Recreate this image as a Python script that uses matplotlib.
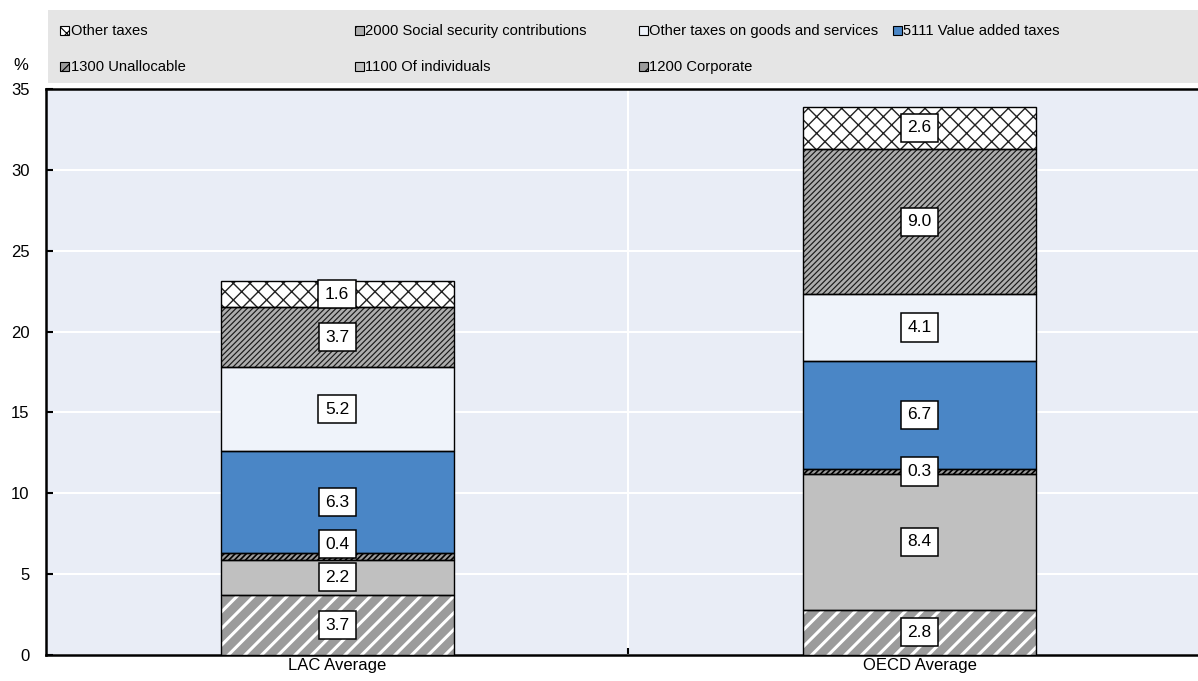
import matplotlib
matplotlib.use('Agg')
import matplotlib.pyplot as plt
from matplotlib.patches import Rectangle
import numpy as np

plt.rcParams['font.family'] = ['Liberation Sans Narrow', 'Liberation Sans', 'DejaVu Sans']

# Tax revenue structure, % of GDP
categories = ['LAC Average', 'OECD Average']
series = ['1200 Corporate', '1100 Of individuals', '1300 Unallocable',
          '5111 Value added taxes', 'Other taxes on goods and services',
          '2000 Social security contributions', 'Other taxes']
corporate = [3.7, 2.8]
individuals = [2.2, 8.4]
unallocable = [0.4, 0.3]
vat = [6.3, 6.7]
other_goods = [5.2, 4.1]
social_security = [3.7, 9.0]
other_taxes = [1.6, 2.6]
values = [corporate, individuals, unallocable, vat, other_goods,
          social_security, other_taxes]

# face colour, hatch pattern, hatch colour, hatch line width
styles = {
    '1200 Corporate': ('#9b9b9b', '//', 'white', 2.2),
    '1100 Of individuals': ('#c0c0c0', None, None, 1.0),
    '1300 Unallocable': ('#9b9b9b', '//////', 'black', 1.2),
    '5111 Value added taxes': ('#4a86c6', None, None, 1.0),
    'Other taxes on goods and services': ('#eff3fa', None, None, 1.0),
    '2000 Social security contributions': ('#adadad', '//////', '#1a1a1a', 0.85),
    'Other taxes': ('white', 'xx', '#222222', 1.0),
}

fig = plt.figure(figsize=(11.98, 6.81), dpi=100)
ax = fig.add_axes([0.0384, 0.0382, 0.9616, 0.8311])
ax.set_facecolor('#e9edf6')

x = np.arange(len(categories))
width = 0.4
bottom = np.zeros(len(categories))
label_pos = [[] for _ in categories]
for name, vals in zip(series, values):
    vals = np.array(vals)
    face, hatch, hcol, hlw = styles[name]
    with plt.rc_context({'hatch.linewidth': hlw}):
        ax.bar(x, vals, width, bottom=bottom, color=face,
               edgecolor=hcol if hatch else face, hatch=hatch, linewidth=0, zorder=3)
    ax.bar(x, vals, width, bottom=bottom, facecolor='none', edgecolor='black',
           linewidth=1.0, zorder=4)
    for i in range(len(categories)):
        y = bottom[i] + vals[i] / 2
        # keep value boxes from overlapping the one below
        if label_pos[i] and y - label_pos[i][-1] < 2.0:
            y = label_pos[i][-1] + 2.05
        label_pos[i].append(y)
        ax.text(x[i], y, f'{vals[i]:.1f}', ha='center', va='center', fontsize=12.5,
                zorder=6, bbox=dict(boxstyle='square,pad=0.38', fc='white',
                                    ec='black', lw=1.1))
    bottom += vals

ax.set_xlim(-0.5, 1.478)
ax.set_ylim(0, 35)
ax.set_yticks(np.arange(0, 36, 5))
ax.set_xticks(x)
ax.set_xticklabels(categories, fontsize=12)
ax.set_xticks([0.5], minor=True)
ax.tick_params(axis='x', which='major', length=0, pad=2)
ax.tick_params(axis='x', which='minor', direction='in', length=5, width=1.5)
ax.tick_params(axis='y', direction='in', length=5, width=1.5, labelsize=12, pad=12)
ax.grid(axis='y', color='white', linewidth=1.5, zorder=1)
ax.grid(axis='x', which='minor', color='white', linewidth=1.5, zorder=1)
ax.set_axisbelow(True)
for side in ['left', 'bottom', 'top']:
    ax.spines[side].set_linewidth(1.8)
ax.spines['right'].set_visible(False)

fig.text(0.0175, 0.9045, '%', fontsize=12, ha='center', va='center')

# legend band across the top
fig.patches.append(Rectangle((0.0401, 0.878), 0.96, 0.108, transform=fig.transFigure,
                             facecolor='#e5e5e5', edgecolor='none', zorder=0))
legend_order = [
    ('Other taxes', 0.050, 0.955), ('2000 Social security contributions', 0.296, 0.955),
    ('Other taxes on goods and services', 0.533, 0.955), ('5111 Value added taxes', 0.745, 0.955),
    ('1300 Unallocable', 0.050, 0.902), ('1100 Of individuals', 0.296, 0.902),
    ('1200 Corporate', 0.533, 0.902),
]
sw, sh = 9 / 1198, 9 / 681
for name, lx, ly in legend_order:
    face, hatch, hcol, hlw = styles[name]
    with plt.rc_context({'hatch.linewidth': 0.8}):
        fig.patches.append(Rectangle((lx, ly - sh / 2), sw, sh, transform=fig.transFigure,
                                     facecolor=face, edgecolor='black',
                                     hatch=hatch[:2] if hatch else None,
                                     linewidth=0.8, zorder=2))
    fig.text(lx + sw + 0.0015, ly, name, fontsize=10.6, ha='left', va='center')

fig.savefig('out.png', dpi=100)
